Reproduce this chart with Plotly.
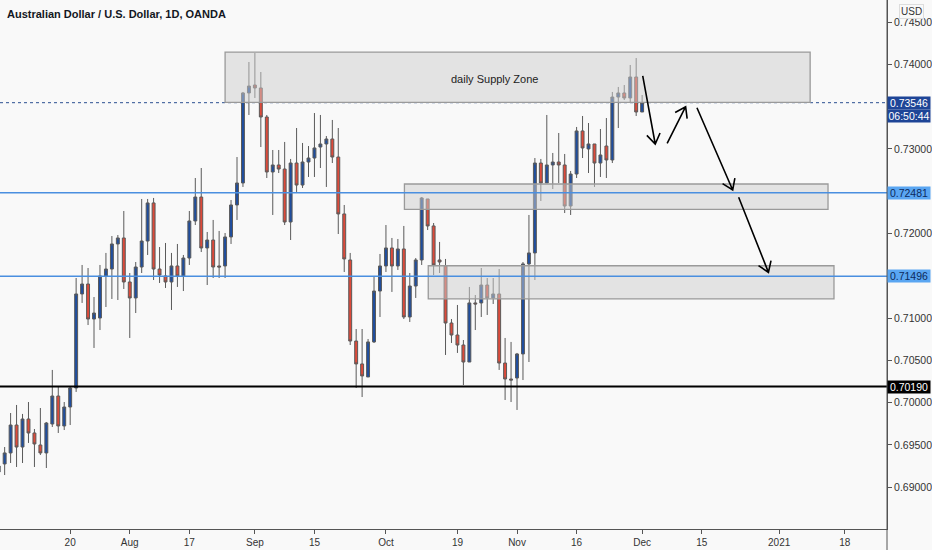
import math

import plotly.graph_objects as go

# ------------------------
# Data (AUD/USD daily)
# ------------------------
OPEN = [
    0.69181, 0.69276, 0.69406, 0.69736, 0.69476, 0.69807, 0.69642, 0.69500, 0.69406, 0.69748,
    0.70079, 0.69725, 0.69949, 0.70174, 0.71285, 0.71403, 0.70989, 0.71001, 0.71498, 0.71580,
    0.71876, 0.71947, 0.71427, 0.71238, 0.71604, 0.71911, 0.72361, 0.71580, 0.71498, 0.71427,
    0.71616, 0.71498, 0.71710, 0.72148, 0.72431, 0.71829, 0.71923, 0.71616, 0.71616, 0.71959,
    0.72337, 0.72597, 0.73661, 0.73755, 0.73720, 0.73377, 0.72727, 0.72810, 0.72762, 0.72136,
    0.72833, 0.72573, 0.72845, 0.72892, 0.73022, 0.73058, 0.73117, 0.72904, 0.72231, 0.71687,
    0.70729, 0.70458, 0.70304, 0.70718, 0.71320, 0.71616, 0.71829, 0.71616, 0.71817, 0.71013,
    0.71379, 0.71687, 0.72408, 0.72089, 0.71687, 0.71616, 0.70942, 0.70800, 0.70682, 0.70481,
    0.71179, 0.71179, 0.71391, 0.71238, 0.71285, 0.70469, 0.70280, 0.70292, 0.70576, 0.71640,
    0.71770, 0.72833, 0.72597, 0.72810, 0.72845, 0.72810, 0.72325, 0.72703, 0.73212, 0.72999,
    0.73058, 0.72833, 0.73034, 0.72869, 0.73613, 0.73661, 0.73602, 0.73850, 0.73436,
]
HIGH = [
    0.69299, 0.69476, 0.69878, 0.69973, 0.69867, 0.70008, 0.69689, 0.69937, 0.69772, 0.70387,
    0.70186, 0.70008, 0.70186, 0.71474, 0.71628, 0.71592, 0.71249, 0.71628, 0.71770, 0.71970,
    0.71982, 0.72266, 0.71533, 0.71663, 0.72408, 0.72408, 0.72420, 0.71840, 0.71888, 0.71770,
    0.71876, 0.71746, 0.72266, 0.72656, 0.72774, 0.72018, 0.72160, 0.72030, 0.72006, 0.72396,
    0.72904, 0.73673, 0.74027, 0.74134, 0.73909, 0.73401, 0.72987, 0.72987, 0.73082, 0.72881,
    0.73247, 0.73070, 0.73034, 0.73424, 0.73401, 0.73152, 0.73342, 0.73247, 0.72337, 0.71770,
    0.70871, 0.70871, 0.70753, 0.71498, 0.71758, 0.72100, 0.71947, 0.71935, 0.72089, 0.71533,
    0.71710, 0.72431, 0.72408, 0.72124, 0.71900, 0.71699, 0.70989, 0.71155, 0.70741, 0.71368,
    0.71273, 0.71592, 0.71474, 0.71474, 0.71580, 0.70765, 0.70718, 0.70588, 0.71663, 0.72219,
    0.72892, 0.72881, 0.73401, 0.72952, 0.73188, 0.72940, 0.72739, 0.73259, 0.73389, 0.73306,
    0.73058, 0.73235, 0.73365, 0.73673, 0.73732, 0.73755, 0.73992, 0.74074, 0.73637,
]
LOW = [
    0.69110, 0.69145, 0.69287, 0.69240, 0.69287, 0.69524, 0.69240, 0.69382, 0.69228, 0.69713,
    0.69642, 0.69677, 0.69736, 0.70127, 0.71179, 0.70918, 0.70647, 0.70859, 0.71131, 0.71226,
    0.71214, 0.71344, 0.70765, 0.71060, 0.71533, 0.71746, 0.71450, 0.71415, 0.71356, 0.71096,
    0.71368, 0.71320, 0.71628, 0.72100, 0.71781, 0.71391, 0.71474, 0.71474, 0.71474, 0.71876,
    0.72160, 0.72550, 0.73401, 0.73602, 0.73022, 0.72656, 0.72219, 0.72715, 0.72100, 0.71923,
    0.72491, 0.72538, 0.72668, 0.72668, 0.72774, 0.72550, 0.72833, 0.71994, 0.71545, 0.70682,
    0.70174, 0.70067, 0.70304, 0.70706, 0.71013, 0.71545, 0.71309, 0.71569, 0.70989, 0.70954,
    0.71238, 0.71628, 0.72041, 0.71509, 0.71533, 0.70564, 0.70706, 0.70588, 0.70209, 0.70481,
    0.70859, 0.71013, 0.71037, 0.71167, 0.70387, 0.70032, 0.70008, 0.69914, 0.70268, 0.70481,
    0.71450, 0.72384, 0.72597, 0.72526, 0.72597, 0.72242, 0.72219, 0.72656, 0.72892, 0.72715,
    0.72550, 0.72668, 0.72656, 0.72833, 0.73247, 0.73578, 0.73543, 0.73389, 0.73436,
]
CLOSE = [
    0.69252, 0.69406, 0.69736, 0.69476, 0.69807, 0.69642, 0.69512, 0.69406, 0.69760, 0.70079,
    0.69725, 0.69949, 0.70174, 0.71285, 0.71403, 0.70989, 0.71060, 0.71498, 0.71580, 0.71876,
    0.71947, 0.71427, 0.71238, 0.71604, 0.71911, 0.72361, 0.71580, 0.71509, 0.71427, 0.71616,
    0.71498, 0.71710, 0.72148, 0.72431, 0.71829, 0.71923, 0.71604, 0.71604, 0.71959, 0.72337,
    0.72597, 0.73661, 0.73743, 0.73720, 0.73377, 0.72727, 0.72810, 0.72762, 0.72136, 0.72833,
    0.72573, 0.72845, 0.72892, 0.73011, 0.73058, 0.73117, 0.72904, 0.72231, 0.71699, 0.70729,
    0.70458, 0.70316, 0.70718, 0.71320, 0.71616, 0.71829, 0.71616, 0.71817, 0.71013, 0.71379,
    0.71687, 0.72420, 0.72089, 0.71628, 0.71663, 0.70942, 0.70800, 0.70682, 0.70481, 0.71179,
    0.71167, 0.71391, 0.71238, 0.71285, 0.70469, 0.70280, 0.70268, 0.70576, 0.71640, 0.71770,
    0.72833, 0.72597, 0.72810, 0.72845, 0.72810, 0.72325, 0.72703, 0.73212, 0.73011, 0.73058,
    0.72833, 0.72928, 0.72869, 0.73613, 0.73661, 0.73602, 0.73850, 0.73436, 0.73546,
]
BAR_INDEX = list(range(len(CLOSE)))

# date ticks (trading-day index -> label)
TICK_POS = [12, 22, 32, 43, 53, 65, 77, 87, 97, 108, 118, 131, 142]
TICK_TEXT = ["20", "Aug", "17", "Sep", "15", "Oct", "19", "Nov", "16", "Dec", "15", "2021", "18"]

PRICE_TICKS = [0.745, 0.740, 0.730, 0.720, 0.710, 0.705, 0.700, 0.695, 0.690]

# horizontal levels
LAST_PRICE = 0.73546
LEVEL_1 = 0.72481
LEVEL_2 = 0.71496
LEVEL_SUPPORT = 0.70190
COUNTDOWN = "06:50:44"

# zones: (x0, x1, price_low, price_high)
SUPPLY_ZONE = (38.0, 136.2, 0.73551, 0.74145)
ZONE_MID = (68.1, 139.2, 0.72286, 0.72585)
ZONE_LOW = (72.1, 140.2, 0.71226, 0.71619)

# projected path arrows: (x_start, p_start, x_end, p_end)
ARROWS = [
    (108.1, 0.73862, 110.2, 0.73058),
    (112.2, 0.73066, 115.3, 0.73499),
    (117.2, 0.73487, 123.2, 0.72514),
    (124.2, 0.72428, 129.2, 0.71541),
]

# ------------------------
# Layout constants
# ------------------------
W, H = 932, 550
M_R, M_B = 45, 21
PLOT_W, PLOT_H = W - M_R, H - M_B
X_RANGE = [0.22, 149.1]
Y_RANGE = [0.68507, 0.74760]

BG = "#f9f9f9"
UP = "#1f4e9f"
DOWN = "#dd4a3a"
WICK = "#5a5a5a"
LEVEL_BLUE = "#4a8fe0"
FONT = "Liberation Sans"


def arrow_shape(x0, y0, x1, y1, size=12, spread=34):
    """Arrow as an SVG path shape: shaft plus an open V head (head built in pixel space)."""
    sx = PLOT_W / (X_RANGE[1] - X_RANGE[0])
    sy = PLOT_H / (Y_RANGE[1] - Y_RANGE[0])
    dx, dy = (x0 - x1) * sx, (y0 - y1) * sy
    n = math.hypot(dx, dy)
    dx, dy = dx / n, dy / n
    wings = []
    for sgn in (-1, 1):
        a = math.radians(spread * sgn)
        wx = dx * math.cos(a) - dy * math.sin(a)
        wy = dx * math.sin(a) + dy * math.cos(a)
        wings.append((x1 + wx * size / sx, y1 + wy * size / sy))
    (ax1, ay1), (ax2, ay2) = wings
    path = (f"M{x0},{y0} L{x1},{y1} "
            f"M{ax1},{ay1} L{x1},{y1} L{ax2},{ay2}")
    return dict(type="path", xref="x", yref="y", path=path,
                line=dict(color="#000000", width=1.6), layer="above")


def zone_shape(z):
    x0, x1, p0, p1 = z
    return dict(
        type="rect", xref="x", yref="y", x0=x0, x1=x1, y0=p0, y1=p1,
        fillcolor="rgba(205,205,205,0.5)",
        line=dict(color="#9a9a9a", width=1.3),
        layer="above",
    )


def level_line(p, color, width, dash="solid", layer="above"):
    return dict(
        type="line", xref="paper", yref="y", x0=0, x1=1, y0=p, y1=p,
        line=dict(color=color, width=width, dash=dash),
        layer=layer,
    )


def axis_label(p, text, bg, fg, yshift=0):
    return dict(
        xref="paper", yref="y", x=1, y=p, xanchor="left", yanchor="middle",
        text=text, showarrow=False, bgcolor=bg, width=42, height=12,
        font=dict(family=FONT, size=10.5, color=fg), yshift=yshift, borderpad=0,
    )


fig = go.Figure()

fig.add_trace(
    go.Candlestick(
        x=BAR_INDEX, open=OPEN, high=HIGH, low=LOW, close=CLOSE,
        increasing=dict(fillcolor=UP, line=dict(color=WICK, width=1)),
        decreasing=dict(fillcolor=DOWN, line=dict(color=WICK, width=1)),
        whiskerwidth=0,
        showlegend=False,
        hoverinfo="skip",
    )
)

shapes = [
    level_line(LAST_PRICE, "#2b4f91", 1, dash="dot", layer="below"),
    zone_shape(SUPPLY_ZONE),
    zone_shape(ZONE_MID),
    zone_shape(ZONE_LOW),
    level_line(LEVEL_1, LEVEL_BLUE, 1.5),
    level_line(LEVEL_2, LEVEL_BLUE, 1.5),
    level_line(LEVEL_SUPPORT, "#000000", 2),
    # price scale separator runs down through the date strip
    dict(type="line", xref="paper", yref="paper", x0=1, x1=1, y0=-0.05, y1=1,
         line=dict(color="#555555", width=1)),
]
shapes += [arrow_shape(*a) for a in ARROWS]

annotations = [
    dict(xref="paper", yref="paper", x=0, y=1, xanchor="left", yanchor="top",
         xshift=5, yshift=-6, showarrow=False,
         text="<b>Australian Dollar / U.S. Dollar, 1D, OANDA</b>",
         font=dict(family=FONT, size=11, color="#131722")),
    dict(xref="x", yref="y", x=83.3, y=0.73826, showarrow=False,
         text="daily Supply Zone",
         font=dict(family=FONT, size=11, color="#222222")),
    dict(xref="paper", yref="paper", x=1, y=1, xanchor="left", yanchor="top",
         xshift=12, yshift=-4, showarrow=False, text="USD",
         bordercolor="#dddddd", borderwidth=1, borderpad=1, bgcolor=BG,
         font=dict(family=FONT, size=10, color="#333333")),
    axis_label(LAST_PRICE, "0.73546", "#1e4597", "#ffffff"),
    axis_label(LAST_PRICE, COUNTDOWN, "#1e4597", "#ffffff", yshift=-13),
    axis_label(LEVEL_1, "0.72481", "#5aa6f2", "#0d2a5c"),
    axis_label(LEVEL_2, "0.71496", "#5aa6f2", "#0d2a5c"),
    axis_label(LEVEL_SUPPORT, "0.70190", "#000000", "#ffffff"),
]

fig.update_layout(
    width=W, height=H,
    paper_bgcolor=BG, plot_bgcolor=BG,
    margin=dict(l=0, r=M_R, t=0, b=M_B, autoexpand=False),
    font=dict(family=FONT, size=10.5, color="#333333"),
    showlegend=False,
    shapes=shapes,
    annotations=annotations,
    xaxis=dict(
        range=X_RANGE, rangeslider=dict(visible=False),
        tickmode="array", tickvals=TICK_POS, ticktext=TICK_TEXT,
        ticks="outside", ticklen=4, tickcolor="#555555",
        showline=True, linecolor="#555555", linewidth=1,
        showgrid=False, zeroline=False,
        tickfont=dict(family=FONT, size=10, color="#333333"),
        fixedrange=True,
    ),
    yaxis=dict(
        range=Y_RANGE, side="right",
        tickmode="array", tickvals=PRICE_TICKS,
        ticktext=[f"{v:.5f}" for v in PRICE_TICKS],
        ticks="outside", ticklen=4, tickcolor="#555555",
        showline=True, linecolor="#555555", linewidth=1,
        showgrid=False, zeroline=False,
        tickfont=dict(family=FONT, size=10.5, color="#333333"),
        fixedrange=True,
    ),
)

# the page body has a default 8px margin; drop it so the figure fills the window
fig.write_html(
    "out.html",
    config={"displayModeBar": False},
    post_script="document.body.style.margin='0';document.body.style.background='%s';" % BG,
)
